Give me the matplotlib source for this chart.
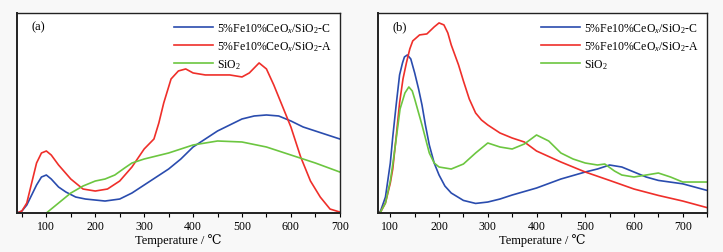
import numpy as np
import matplotlib
matplotlib.use('Agg')
import matplotlib.pyplot as plt
from matplotlib.ticker import MultipleLocator

plt.rcParams['font.family'] = ['Liberation Serif', 'DejaVu Serif']
plt.rcParams['mathtext.fontset'] = 'custom'
plt.rcParams['mathtext.rm'] = 'Liberation Serif'
plt.rcParams['mathtext.it'] = 'Liberation Serif:italic'

# Подписи серий
labels = ['5%Fe10%CeO$_{\\it x}$/SiO$_2$-C', '5%Fe10%CeO$_{\\it x}$/SiO$_2$-A', 'SiO$_2$']
colors = ['#2a4cae', '#ef2f2a', '#6cc640']

# Панель (a): температура и сигнал (нормировано)
a_blue_x = [40, 50, 60, 70, 80, 90, 100, 110, 125, 140, 160, 180, 200, 220, 250, 275, 300, 325, 350, 375,
            400, 425, 450, 475, 500, 525, 550, 575, 600, 625, 650, 675, 700]
a_blue_y = [0.0, 0.01, 0.04, 0.09, 0.14, 0.18, 0.19, 0.17, 0.13, 0.105, 0.08, 0.07, 0.065, 0.06, 0.07, 0.10,
            0.14, 0.18, 0.22, 0.27, 0.33, 0.37, 0.41, 0.44, 0.47, 0.485, 0.49, 0.485, 0.46, 0.43, 0.41, 0.39, 0.37]
a_red_x = [40, 50, 60, 70, 80, 90, 100, 110, 125, 150, 175, 200, 225, 250, 275, 300, 320, 330, 340, 355, 370,
           385, 400, 425, 450, 475, 500, 515, 535, 550, 565, 580, 600, 620, 640, 660, 680, 700]
a_red_y = [0.0, 0.01, 0.05, 0.15, 0.25, 0.30, 0.31, 0.29, 0.24, 0.17, 0.12, 0.11, 0.12, 0.16, 0.23, 0.32,
           0.37, 0.45, 0.55, 0.67, 0.71, 0.72, 0.70, 0.69, 0.69, 0.69, 0.68, 0.70, 0.75, 0.72, 0.64, 0.55, 0.43,
           0.28, 0.16, 0.08, 0.02, 0.005]
a_green_x = [100, 125, 150, 175, 200, 220, 240, 260, 275, 300, 350, 400, 450, 500, 550, 600, 650, 700]
a_green_y = [0.0, 0.05, 0.10, 0.135, 0.16, 0.17, 0.19, 0.225, 0.25, 0.27, 0.30, 0.34, 0.36, 0.355, 0.33,
             0.29, 0.25, 0.205]

# Панель (b)
b_blue_x = [75, 80, 90, 100, 105, 112, 119, 125, 129, 135, 142, 150, 158, 165, 172, 180, 190, 200, 212, 225,
            250, 275, 300, 325, 350, 400, 450, 500, 525, 550, 575, 600, 625, 650, 700, 750]
b_blue_y = [0.0, 0.01, 0.08, 0.25, 0.38, 0.54, 0.69, 0.75, 0.78, 0.79, 0.77, 0.70, 0.62, 0.54, 0.44, 0.34,
            0.25, 0.19, 0.135, 0.10, 0.063, 0.048, 0.055, 0.07, 0.09, 0.125, 0.17, 0.205, 0.22, 0.24, 0.23,
            0.205, 0.18, 0.163, 0.146, 0.113]
b_red_x = [75, 80, 90, 100, 105, 112, 119, 126, 133, 140, 146, 160, 175, 190, 200, 210, 218, 225, 240, 250,
           262, 275, 287, 300, 325, 350, 375, 400, 450, 500, 550, 600, 650, 700, 750]
b_red_y = [0.0, 0.005, 0.05, 0.15, 0.22, 0.38, 0.55, 0.67, 0.75, 0.82, 0.86, 0.89, 0.895, 0.93, 0.95,
           0.94, 0.90, 0.84, 0.74, 0.66, 0.57, 0.50, 0.465, 0.44, 0.40, 0.375, 0.355, 0.31, 0.255, 0.205,
           0.163, 0.12, 0.088, 0.06, 0.027]
b_green_x = [75, 80, 90, 100, 106, 112, 120, 130, 138, 145, 150, 165, 180, 190, 200, 225, 250, 275, 300, 325,
             350, 375, 400, 425, 450, 475, 500, 525, 540, 560, 575, 600, 625, 650, 675, 700, 750]
b_green_y = [0.0, 0.005, 0.05, 0.16, 0.26, 0.37, 0.52, 0.60, 0.63, 0.61, 0.57, 0.44, 0.30, 0.25, 0.23, 0.22,
             0.245, 0.30, 0.35, 0.33, 0.32, 0.345, 0.39, 0.36, 0.30, 0.27, 0.25, 0.24, 0.245, 0.21, 0.19,
             0.18, 0.19, 0.20, 0.18, 0.155, 0.155]

panels = [
    ('(a)', (40, 700), [(a_blue_x, a_blue_y), (a_red_x, a_red_y), (a_green_x, a_green_y)]),
    ('(b)', (75, 750), [(b_blue_x, b_blue_y), (b_red_x, b_red_y), (b_green_x, b_green_y)]),
]

fig = plt.figure(figsize=(7.23, 2.53), dpi=100, facecolor='#f8f8f8')
rects = [[0.0235, 0.154, 0.4465, 0.791], [0.523, 0.154, 0.455, 0.791]]

for rect, (tag, xlim, series) in zip(rects, panels):
    ax = fig.add_axes(rect)
    for (xs, ys), c, lab in zip(series, colors, labels):
        ax.plot(xs, ys, color=c, lw=1.2, label=lab)
    ax.set_xlim(*xlim)
    ax.set_ylim(0, 1.0)
    ax.set_yticks([])
    ax.xaxis.set_major_locator(MultipleLocator(100))
    ax.xaxis.set_minor_locator(MultipleLocator(50))
    ax.tick_params(axis='x', which='both', direction='out', length=3, width=0.8, labelsize=8.5, pad=2)
    for s in ax.spines.values():
        s.set_linewidth(1.0)
        s.set_color('#222222')
    ax.spines['left'].set_linewidth(1.4)
    ax.spines['bottom'].set_linewidth(1.4)
    ax.set_xlabel('Temperature / ℃', fontsize=9, labelpad=1)
    ax.text(0.045, 0.935, tag, transform=ax.transAxes, fontsize=9, va='center')
    ax.legend(loc='upper right', frameon=False, fontsize=8.5, handlelength=3.3, handletextpad=0.3,
              labelspacing=0.35, borderaxespad=0.3)

fig.savefig('out.png', dpi=100, facecolor=fig.get_facecolor())
